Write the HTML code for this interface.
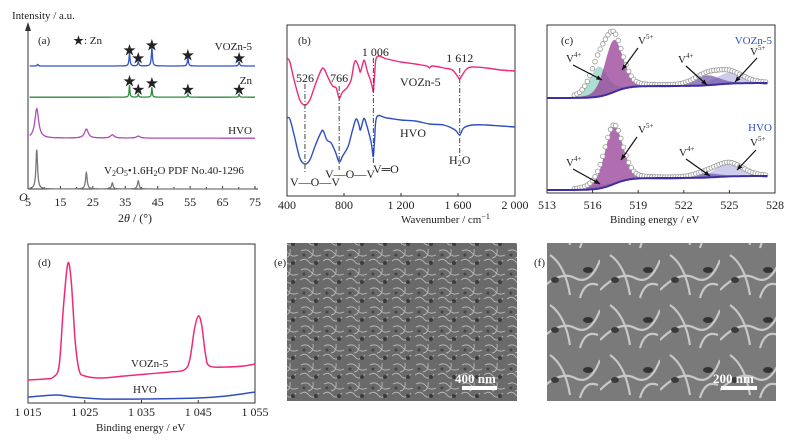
<!DOCTYPE html>
<html><head><meta charset="utf-8">
<style>
html,body{margin:0;padding:0;background:#fff;}
svg{display:block;font-family:"Liberation Serif","Noto Serif CJK SC",serif;}
text{fill:#222;}
</style></head>
<body>
<svg id="fig" width="793" height="443" viewBox="0 0 793 443" xmlns="http://www.w3.org/2000/svg">
<defs>
<pattern id="semE" width="23" height="19" patternUnits="userSpaceOnUse">
<rect width="23" height="19" fill="#6a6a6a"/>
<path d="M2 4 Q8 1 12 6 T22 8 M1 14 Q6 10 10 15 T20 13 M14 2 Q15 10 9 11" stroke="#b8b8b8" stroke-width="0.9" fill="none"/>
<circle cx="17" cy="16" r="2" fill="#3a3a3a"/><circle cx="5" cy="8" r="1.5" fill="#444"/>
</pattern>
<pattern id="semF" width="60" height="50" patternUnits="userSpaceOnUse">
<rect width="60" height="50" fill="#7a7a7a"/>
<path d="M0 40 Q20 20 35 28 T60 10 M10 5 Q25 15 30 45 M40 48 Q45 30 58 35" stroke="#c8c8c8" stroke-width="2.2" fill="none"/>
<ellipse cx="48" cy="20" rx="5" ry="3" fill="#333"/><ellipse cx="15" cy="30" rx="4" ry="3" fill="#3a3a3a"/>
</pattern>
</defs>
<g id="pa"></g>
<g id="pb"></g>
<g id="pc"></g>
<g id="pd"></g>
<g id="pe">
<rect x="287" y="243" width="230" height="158" fill="url(#semE)"/>
<text x="274" y="266" font-size="11">(e)</text>
<text x="455" y="383" font-size="13" font-weight="bold" style="fill:#fff">400 nm</text>
<rect x="462" y="386" width="35" height="4" fill="#fff"/>
</g>
<g id="pf">
<rect x="547" y="243" width="229" height="158" fill="url(#semF)"/>
<text x="534" y="266" font-size="11">(f)</text>
<text x="713" y="383" font-size="13" font-weight="bold" style="fill:#fff">200 nm</text>
<rect x="721" y="386" width="36" height="4" fill="#fff"/>
</g>
</svg>
<script>
// ---------- Panel (a) XRD data ----------
const xrdTicks = [5,15,25,35,45,55,65,75];
const xrdOffsets = [75, 56, 31, 0]; // VOZn-5, Zn, HVO, PDF
const xrdNames = ["VOZn-5","Zn","HVO","PDF"];
const xrdColors = ["#2f55c8","#2e8b3e","#b04cb8","#777777"];
const xrdPeakPos = [[8,36.3,39,43.2,54.3,70.1],[36.3,39,43.2,54.3,70.1],[7.7,23,31,39],[7.7,23,31,39]];
const xrdPeakH = [[1,7.3,2.4,11,5,2.4],[7.3,1.8,6,1.8,1.8],[18,5.5,2,1.2],[24,10,3.7,5]];
const xrdPeakW = [0.2,0.15,0.7,0.3];
const starPosV = [36.3,39,43.2,54.3,70.1];
const starYV = [82,77,85,79,77];
const starPosZ = [36.3,39,43.2,54.3,70.1];
const starYZ = [63,58,62,58,58];
// ---------- Panel (b) FTIR data ----------
const ftirTicks = [400,800,1200,1600,2000];
const ftirTickLabels = ["400","800","1 200","1 600","2 000"];
const ftirWnPink = [400,420,450,490,526,560,600,640,660,690,720,745,766,790,820,850,870,885,905,915,935,945,965,985,1000,1006,1015,1030,1100,1200,1300,1380,1400,1420,1500,1560,1600,1612,1630,1660,1700,1800,1900,2000];
const ftirTPink = [138,134,116,96,91,96,112,126,127,118,110,108,98,104,108,116,132,135,128,124,134,135,124,116,108,105,121,139,137,134,132,130,128,130,128,126,119,117,121,127,129,128,126,125];
const ftirWnBlue = [400,420,450,490,526,560,600,640,655,680,710,740,766,790,830,860,885,905,915,935,945,965,990,1000,1006,1015,1030,1100,1200,1300,1400,1500,1580,1612,1640,1700,1800,1900,2000];
const ftirTBlue = [78,77,61,38,32,36,51,64,65,56,53,44,34,40,50,66,77,71,66,76,77,68,54,44,40,56,79,78,76,75,72,71,66,61,68,71,71,70,69];
const ftirMarks = [526,766,1006,1612];
// ---------- Panel (c) XPS V2p data ----------
const xpsTicks = [513,516,519,522,525,528];
const xpsCompPos = [516.4,517.4,523.5,525.0];
const xpsCompHTop = [30,52,10,11];
const xpsCompHBot = [4,58,4,13];
const xpsCompW = [0.6,0.6,0.85,0.9];
const xpsBaseTop = [98,86,83];
const xpsBaseBot = [190,178,176];
// ---------- Panel (d) XPS Zn2p data ----------
const znTicks = [1015,1025,1035,1045,1055];
const znTickLabels = ["1 015","1 025","1 035","1 045","1 055"];
const znEPink = [1015,1018,1019.5,1020.5,1021.2,1022,1022.6,1023.3,1024,1025,1028,1032,1036,1040,1042.5,1043.5,1044.3,1045,1045.6,1046.3,1047,1050,1053,1055];
const znIPink = [23,24,26,38,93,139,123,63,33,27,25,27,29,31,33,43,73,87,78,48,37,36,37,39];
const znEBlue = [1015,1020,1023,1028,1035,1045,1050,1055];
const znIBlue = [6,8,6,4,4,5,7,11];

const NS="http://www.w3.org/2000/svg";
function mk(parent,tag,attrs,name,txt){
  const e=document.createElementNS(NS,tag);
  for(const k in attrs) e.setAttribute(k,attrs[k]);
  
  
  if(txt!==undefined) e.textContent=txt;
  parent.appendChild(e); return e;
}
function txt(p,x,y,s,name,opts){opts=opts||{};const t=mk(p,'text',Object.assign({x:x,y:y,'font-size':opts.fs||11},opts.a||{}),name);t.innerHTML=s;return t;}
function lin(a,b,c,d){return v=>c+(v-a)*(d-c)/(b-a);}
function poly(pts){return pts.map((p,i)=>(i?'L':'M')+p[0].toFixed(1)+' '+p[1].toFixed(1)).join(' ');}
function smooth(pts){
  let d='M'+pts[0][0].toFixed(1)+' '+pts[0][1].toFixed(1);
  for(let i=0;i<pts.length-1;i++){
    const p0=pts[i-1]||pts[i],p1=pts[i],p2=pts[i+1],p3=pts[i+2]||p2;
    const c1=[p1[0]+(p2[0]-p0[0])/6,p1[1]+(p2[1]-p0[1])/6],c2=[p2[0]-(p3[0]-p1[0])/6,p2[1]-(p3[1]-p1[1])/6];
    d+=' C'+c1[0].toFixed(1)+' '+c1[1].toFixed(1)+' '+c2[0].toFixed(1)+' '+c2[1].toFixed(1)+' '+p2[0].toFixed(1)+' '+p2[1].toFixed(1);
  }
  return d;
}
function lor(x,p,h,w){return h/(1+((x-p)/w)**2);}
function pv(x,p,h,s){const g=Math.exp(-((x-p)**2)/(2*s*s));const l=1/(1+((x-p)/(1.18*s))**2);return h*(0.75*g+0.25*l);}

// ---------- draw (a) ----------
(function(){
  const g=document.getElementById('pa');
  const X=lin(5,75,28,255), Y=v=>189-v*1.64;
  mk(g,'line',{x1:28,y1:189,x2:258,y2:189,stroke:'#333','stroke-width':1},'x-axis');
  mk(g,'line',{x1:28,y1:189,x2:28,y2:28,stroke:'#333','stroke-width':1},'y-axis');
  mk(g,'path',{d:'M28 22 L25 31 L31 31 Z',fill:'#333'},'y-axis-arrow');
  xrdTicks.forEach((t,i)=>{
    mk(g,'line',{x1:X(t),y1:189,x2:X(t),y2:186,stroke:'#333'},'x-tick');
    txt(g,X(t),206,t,'x-tick-label',{fs:12,a:{'text-anchor':'middle'}});
    if(i<xrdTicks.length-1) mk(g,'line',{x1:X(t+5),y1:189,x2:X(t+5),y2:187,stroke:'#333'},'x-minor-tick');
  });
  txt(g,12,19,'Intensity / a.u.','y-axis-title',{fs:11});
  txt(g,19,201,'<tspan font-style="italic">O</tspan>','origin-label',{fs:12});
  txt(g,118,222,'2<tspan font-style="italic">θ</tspan> / (°)','x-axis-title',{fs:12});
  xrdNames.forEach((n,s)=>{
    const pts=[];
    for(let x=5.5;x<=75;x+=0.05){let v=xrdOffsets[s];xrdPeakPos[s].forEach((p,k)=>{v+=lor(x,p,xrdPeakH[s][k],xrdPeakW[s]);});pts.push([X(x),Y(v)]);}
    mk(g,'path',{d:poly(pts),fill:'none',stroke:xrdColors[s],'stroke-width':1.3},'xrd-line-'+n.toLowerCase());
  });
  starPosV.forEach((p,i)=>txt(g,X(p),Y(starYV[i]),'★','zn-star-vozn',{fs:13,a:{'text-anchor':'middle'}}));
  starPosZ.forEach((p,i)=>txt(g,X(p),Y(starYZ[i]),'★','zn-star-zn',{fs:13,a:{'text-anchor':'middle'}}));
  txt(g,38,44,'(a)','panel-a-label');
  txt(g,73,44,'★: Zn','star-legend');
  txt(g,252,50,'VOZn-5','label-vozn5',{a:{'text-anchor':'end'}});
  txt(g,252,84,'Zn','label-zn',{a:{'text-anchor':'end'}});
  txt(g,252,134,'HVO','label-hvo',{a:{'text-anchor':'end'}});
  txt(g,104,174,'V<tspan font-size="8" dy="2">2</tspan><tspan dy="-2">O</tspan><tspan font-size="8" dy="2">5</tspan><tspan dy="-2">•1.6H</tspan><tspan font-size="8" dy="2">2</tspan><tspan dy="-2">O PDF No.40-1296</tspan>','label-pdf');
})();

// ---------- draw (b) ----------
(function(){
  const g=document.getElementById('pb');
  const X=lin(400,2000,287,515), Y=v=>196-v;
  mk(g,'rect',{x:287,y:25,width:228,height:171,fill:'none',stroke:'#333'},'plot-frame-b');
  ftirTicks.forEach((t,i)=>{
    mk(g,'line',{x1:X(t),y1:196,x2:X(t),y2:193,stroke:'#333'},'x-tick');
    txt(g,X(t),209,ftirTickLabels[i],'x-tick-label',{fs:12,a:{'text-anchor':'middle'}});
  });
  txt(g,401,223,'Wavenumber / cm<tspan font-size="8" dy="-4">−1</tspan>','x-axis-title');
  mk(g,'path',{d:smooth(ftirWnPink.map((w,i)=>[X(w),Y(ftirTPink[i])])),fill:'none',stroke:'#ee2a78','stroke-width':1.4},'ftir-line-vozn5');
  mk(g,'path',{d:smooth(ftirWnBlue.map((w,i)=>[X(w),Y(ftirTBlue[i])])),fill:'none',stroke:'#2f4fc0','stroke-width':1.4},'ftir-line-hvo');
  const tops=[84,86,58,68], bots=[172,170,165,156];
  ftirMarks.forEach((m,i)=>mk(g,'line',{x1:X(m),y1:tops[i],x2:X(m),y2:bots[i],stroke:'#444','stroke-dasharray':'5 2 1 2'},'peak-marker-'+m));
  txt(g,X(526),82,'526','label-526',{fs:12,a:{'text-anchor':'middle'}});
  txt(g,X(766),82,'766','label-766',{fs:12,a:{'text-anchor':'middle'}});
  txt(g,X(1006)+2,56,'1 006','label-1006',{fs:12,a:{'text-anchor':'middle'}});
  txt(g,X(1612),62,'1 612','label-1612',{fs:12,a:{'text-anchor':'middle'}});
  txt(g,400,86,'VOZn-5','label-vozn5',{fs:12});
  txt(g,400,137,'HVO','label-hvo',{fs:12});
  txt(g,X(1612),164,'H<tspan font-size="8" dy="2">2</tspan><tspan dy="-2">O</tspan>','label-h2o',{fs:12,a:{'text-anchor':'middle'}});
  txt(g,290,186,'V—O—V','label-vov-1',{fs:12});
  txt(g,325,178,'V—O—V','label-vov-2',{fs:12});
  txt(g,373,173,'V═O','label-vo',{fs:12});
  txt(g,298,44,'(b)','panel-b-label');
})();

// ---------- draw (c) ----------
(function(){
  const g=document.getElementById('pc');
  const X=lin(513,528,547,775);
  mk(g,'rect',{x:547,y:25,width:228,height:168,fill:'none',stroke:'#333'},'plot-frame-c');
  xpsTicks.forEach(t=>{
    mk(g,'line',{x1:X(t),y1:193,x2:X(t),y2:190,stroke:'#333'},'x-tick');
    txt(g,X(t),209,t,'x-tick-label',{fs:12,a:{'text-anchor':'middle'}});
  });
  txt(g,610,223,'Binding energy / eV','x-axis-title');
  const sig=z=>1/(1+Math.exp(-z));
  const fills=['rgba(120,200,180,0.6)','rgba(150,60,150,0.75)','rgba(110,80,170,0.7)','rgba(170,170,225,0.6)'];
  function draw(H,B,tag){
    const base=x=>B[0]-(B[0]-B[1])*sig((x-517.4)/0.5)-(B[1]-B[2])*sig((x-524.2)/0.6);
    const xs=[];for(let x=514.5;x<=527.5;x+=0.05)xs.push(x);
    const order=[0,3,2,1];
    order.forEach(k=>{
      const top=xs.map(x=>[X(x),base(x)-pv(x,xpsCompPos[k],H[k],xpsCompW[k])]);
      const bot=xs.slice().reverse().map(x=>[X(x),base(x)]);
      mk(g,'path',{d:poly(top.concat(bot))+'Z',fill:fills[k],stroke:'none'},'component-'+tag+'-'+k);
    });
    const env=x=>base(x)-xpsCompPos.reduce((s,p,k)=>s+pv(x,p,H[k],xpsCompW[k]),0);
    for(let x=514.8;x<=527.4;x+=0.17) mk(g,'circle',{cx:X(x),cy:env(x),r:2.3,fill:'#fff',stroke:'#999','stroke-width':0.8},'envelope-point-'+tag);
    mk(g,'path',{d:poly([[X(513),B[0]]].concat(xs.map(x=>[X(x),base(x)]))),fill:'none',stroke:'#3c2f9e','stroke-width':2},'baseline-'+tag);
  }
  draw(xpsCompHTop,xpsBaseTop,'vozn5');
  draw(xpsCompHBot,xpsBaseBot,'hvo');
  function arrow(x1,y1,x2,y2,nm){
    mk(g,'line',{x1:x1,y1:y1,x2:x2,y2:y2,stroke:'#111','stroke-width':1.2},nm);
    const a=Math.atan2(y2-y1,x2-x1),L=6;
    const p=[[x2,y2],[x2-L*Math.cos(a-0.4),y2-L*Math.sin(a-0.4)],[x2-L*Math.cos(a+0.4),y2-L*Math.sin(a+0.4)]];
    mk(g,'path',{d:poly(p)+'Z',fill:'#111'},nm+'-head');
  }
  const V=(s)=>'V<tspan font-size="7" dy="-5">'+s+'</tspan>';
  txt(g,638,44,V('5+'),'label-v5-top');arrow(638,48,622,70,'arrow-v5-top');
  txt(g,566,62,V('4+'),'label-v4-top');arrow(573,65,602,80,'arrow-v4-top');
  txt(g,678,63,V('4+'),'label-v4-top-right');arrow(686,66,707,85,'arrow-v4-top-right');
  txt(g,750,55,V('5+'),'label-v5-top-right');arrow(757,58,735,82,'arrow-v5-top-right');
  txt(g,638,133,V('5+'),'label-v5-bot');arrow(637,137,621,160,'arrow-v5-bot');
  txt(g,566,166,V('4+'),'label-v4-bot');arrow(573,169,600,184,'arrow-v4-bot');
  txt(g,679,156,V('4+'),'label-v4-bot-right');arrow(686,159,710,176,'arrow-v4-bot-right');
  txt(g,750,146,V('5+'),'label-v5-bot-right');arrow(756,150,737,170,'arrow-v5-bot-right');
  txt(g,561,44,'(c)','panel-c-label');
  txt(g,772,44,'VOZn-5','label-vozn5',{a:{'text-anchor':'end',style:'fill:#2f4fc0'}});
  txt(g,772,131,'HVO','label-hvo',{a:{'text-anchor':'end',style:'fill:#2f4fc0'}});
})();

// ---------- draw (d) ----------
(function(){
  const g=document.getElementById('pd');
  const X=lin(1015,1055,28,255), Y=v=>403-v;
  mk(g,'rect',{x:28,y:244,width:227,height:159,fill:'none',stroke:'#333'},'plot-frame-d');
  znTicks.forEach((t,i)=>{
    mk(g,'line',{x1:X(t),y1:403,x2:X(t),y2:400,stroke:'#333'},'x-tick');
    txt(g,X(t),416,znTickLabels[i],'x-tick-label',{fs:12,a:{'text-anchor':'middle'}});
  });
  txt(g,96,431,'Binding energy / eV','x-axis-title');
  mk(g,'path',{d:smooth(znEPink.map((e,i)=>[X(e),Y(znIPink[i])])),fill:'none',stroke:'#ee2a78','stroke-width':1.5},'zn-line-vozn5');
  mk(g,'path',{d:smooth(znEBlue.map((e,i)=>[X(e),Y(znIBlue[i])])),fill:'none',stroke:'#2f4fc0','stroke-width':1.5},'zn-line-hvo');
  txt(g,38,266,'(d)','panel-d-label');
  txt(g,131,367,'VOZn-5','label-vozn5');
  txt(g,133,393,'HVO','label-hvo');
})();
</script>
</body></html>
